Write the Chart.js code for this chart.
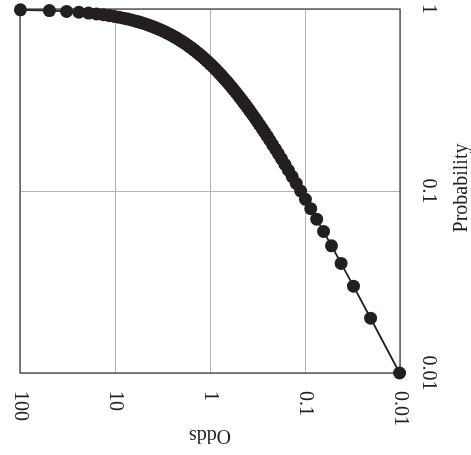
<!DOCTYPE html>
<html>
<head>
<meta charset="utf-8">
<script src="https://cdn.jsdelivr.net/npm/chart.js@4/dist/chart.umd.min.js"></script>
<style>
  html, body { margin: 0; padding: 0; background: #fff; }
</style>
</head>
<body>
<canvas id="chart" width="471" height="455"></canvas>
<script>
// probability of each point and the matching odds
const probability = [
  0.01, 0.02, 0.03, 0.04, 0.05, 0.06, 0.07, 0.08, 0.09, 0.10,
  0.11, 0.12, 0.13, 0.14, 0.15, 0.16, 0.17, 0.18, 0.19, 0.20,
  0.21, 0.22, 0.23, 0.24, 0.25, 0.26, 0.27, 0.28, 0.29, 0.30,
  0.31, 0.32, 0.33, 0.34, 0.35, 0.36, 0.37, 0.38, 0.39, 0.40,
  0.41, 0.42, 0.43, 0.44, 0.45, 0.46, 0.47, 0.48, 0.49, 0.50,
  0.51, 0.52, 0.53, 0.54, 0.55, 0.56, 0.57, 0.58, 0.59, 0.60,
  0.61, 0.62, 0.63, 0.64, 0.65, 0.66, 0.67, 0.68, 0.69, 0.70,
  0.71, 0.72, 0.73, 0.74, 0.75, 0.76, 0.77, 0.78, 0.79, 0.80,
  0.81, 0.82, 0.83, 0.84, 0.85, 0.86, 0.87, 0.88, 0.89, 0.90,
  0.91, 0.92, 0.93, 0.94, 0.95, 0.96, 0.97, 0.98, 0.99
];
const odds = [
  0.0101, 0.0204, 0.0309, 0.0417, 0.0526, 0.0638, 0.0753, 0.0870, 0.0989, 0.1111,
  0.1236, 0.1364, 0.1494, 0.1628, 0.1765, 0.1905, 0.2048, 0.2195, 0.2346, 0.25,
  0.2658, 0.2821, 0.2987, 0.3158, 0.3333, 0.3514, 0.3699, 0.3889, 0.4085, 0.4286,
  0.4493, 0.4706, 0.4925, 0.5152, 0.5385, 0.5625, 0.5873, 0.6129, 0.6393, 0.6667,
  0.6949, 0.7241, 0.7544, 0.7857, 0.8182, 0.8519, 0.8868, 0.9231, 0.9608, 1,
  1.0408, 1.0833, 1.1277, 1.1739, 1.2222, 1.2727, 1.3256, 1.3810, 1.4390, 1.5,
  1.5641, 1.6316, 1.7027, 1.7778, 1.8571, 1.9412, 2.0303, 2.125, 2.2258, 2.3333,
  2.4483, 2.5714, 2.7037, 2.8462, 3, 3.1667, 3.3478, 3.5455, 3.7619, 4,
  4.2632, 4.5556, 4.8824, 5.25, 5.6667, 6.1429, 6.6923, 7.3333, 8.0909, 9,
  10.111, 11.5, 13.286, 15.667, 19, 24, 32.333, 49, 99
];
const oddsTicks = [100, 10, 1, 0.1, 0.01];
const oddsTickLabels = ['100', '10', '1', '0.1', '0.01'];
const probTicks = [1, 0.1, 0.01];
const probTickLabels = ['1', '0.1', '0.01'];

const ink = '#231f20';
const font = '20px "Liberation Serif", "Times New Roman", serif';

const labels = {
  id: 'labels',
  beforeDatasetsDraw(chart) {
    const { ctx, chartArea: a } = chart;
    ctx.save();
    ctx.strokeStyle = '#3a3a3a';
    ctx.lineWidth = 1.2;
    ctx.strokeRect(a.left, a.top, a.right - a.left, a.bottom - a.top);
    ctx.restore();
  },
  afterDraw(chart) {
    const { ctx, scales: { x, y }, chartArea: a } = chart;
    ctx.save();
    ctx.fillStyle = ink;
    ctx.font = font;

    // odds ticks, turned clockwise
    oddsTicks.forEach((v, i) => {
      ctx.save();
      ctx.translate(x.getPixelForValue(v), a.bottom + 18);
      ctx.rotate(Math.PI / 2);
      ctx.textAlign = 'left';
      ctx.textBaseline = 'middle';
      ctx.fillText(oddsTickLabels[i], 0, 0);
      ctx.restore();
    });

    // probability ticks, turned clockwise
    probTicks.forEach((v, i) => {
      ctx.save();
      ctx.translate(a.right + 28, y.getPixelForValue(v));
      ctx.rotate(Math.PI / 2);
      ctx.textAlign = 'center';
      ctx.textBaseline = 'middle';
      ctx.fillText(probTickLabels[i], 0, 0);
      ctx.restore();
    });

    // axis titles
    ctx.save();
    ctx.translate((a.left + a.right) / 2, a.bottom + 62);
    ctx.rotate(Math.PI);
    ctx.textAlign = 'center';
    ctx.textBaseline = 'middle';
    ctx.fillText('Odds', 0, 0);
    ctx.restore();

    ctx.save();
    ctx.translate(a.right + 62, y.getPixelForValue(0.1) - 3);
    ctx.rotate(-Math.PI / 2);
    ctx.textAlign = 'center';
    ctx.textBaseline = 'middle';
    ctx.fillText('Probability', 0, 0);
    ctx.restore();

    ctx.restore();
  }
};

new Chart(document.getElementById('chart'), {
  type: 'scatter',
  data: {
    datasets: [{
      data: odds.map((o, i) => ({ x: o, y: probability[i] })),
      showLine: true,
      borderColor: ink,
      borderWidth: 1.8,
      backgroundColor: ink,
      pointRadius: 6.5,
      pointBorderWidth: 0,
      clip: false
    }]
  },
  options: {
    responsive: false,
    animation: false,
    devicePixelRatio: 1,
    layout: { padding: { left: 20, top: 9, right: 71, bottom: 82 } },
    plugins: { legend: { display: false }, tooltip: { enabled: false } },
    scales: {
      x: {
        type: 'logarithmic',
        position: 'bottom',
        reverse: true,
        min: 0.01,
        max: 100,
        afterBuildTicks: axis => { axis.ticks = oddsTicks.map(v => ({ value: v })); },
        ticks: { display: false },
        grid: { color: '#b3b3b3', lineWidth: 1, drawTicks: false },
        border: { display: false }
      },
      y: {
        type: 'logarithmic',
        position: 'right',
        min: 0.01,
        max: 1,
        afterBuildTicks: axis => { axis.ticks = probTicks.map(v => ({ value: v })); },
        ticks: { display: false },
        grid: { color: '#b3b3b3', lineWidth: 1, drawTicks: false },
        border: { display: false }
      }
    }
  },
  plugins: [labels]
});
</script>
</body>
</html>
